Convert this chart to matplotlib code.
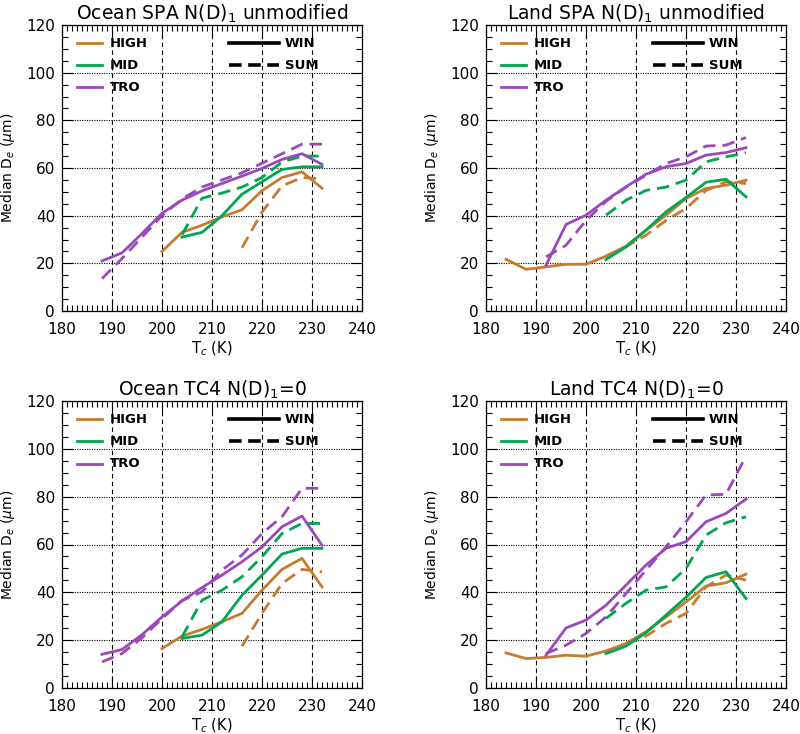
import matplotlib
matplotlib.use("Agg")
import matplotlib.pyplot as plt
from matplotlib.ticker import MultipleLocator

plt.rcParams['font.family'] = ['DejaVu Sans']

# ---------------- data ----------------
# Panel 1: Ocean SPA N(D)1 unmodified
p1_high_win_T = [200, 204, 208, 212, 216, 220, 224, 228, 232]
p1_high_win = [25, 33, 36, 39.5, 42.5, 50.5, 56, 58.4, 51.5]
p1_high_sum_T = [216, 220, 224, 228, 232]
p1_high_sum = [26.5, 41.5, 52.5, 56, 55.5]
p1_mid_win_T = [204, 208, 212, 216, 220, 224, 228, 232]
p1_mid_win = [31, 33, 40, 49, 54.2, 59.4, 60.5, 60.5]
p1_mid_sum_T = [204, 208, 212, 216, 220, 224, 228, 232]
p1_mid_sum = [32, 47.3, 49.5, 52, 56, 62.5, 65, 65]
p1_tro_win_T = [188, 192, 196, 200, 204, 208, 212, 216, 220, 224, 228, 232]
p1_tro_win = [21, 24.4, 32.5, 41, 46.5, 50.4, 53.5, 56.6, 59.8, 63.6, 66, 61.5]
p1_tro_sum_T = [188, 192, 196, 200, 204, 208, 212, 216, 220, 224, 228, 232]
p1_tro_sum = [13.6, 22, 31, 40, 47, 52, 55, 58, 62, 66, 70, 70]

# Panel 2: Land SPA N(D)1 unmodified
p2_high_win_T = [184, 188, 192, 196, 200, 204, 208, 212, 216, 220, 224, 228, 232]
p2_high_win = [21.7, 17.5, 18.5, 19.6, 19.6, 23, 27.2, 33.9, 40.2, 47.2, 51.4, 52.8, 54.9]
p2_high_sum_T = [204, 208, 212, 216, 220, 224, 228, 232]
p2_high_sum = [23, 27, 31.8, 38, 43, 50.6, 54.2, 53.5]
p2_mid_win_T = [204, 208, 212, 216, 220, 224, 228, 232]
p2_mid_win = [21.6, 26.9, 33.9, 41.6, 47.6, 54, 55.3, 47.9]
p2_mid_sum_T = [204, 208, 212, 216, 220, 224, 228, 232]
p2_mid_sum = [40.2, 46.5, 50.6, 52, 54.9, 62.6, 64.7, 66.4]
p2_tro_win_T = [192, 196, 200, 204, 208, 212, 216, 220, 224, 228, 232]
p2_tro_win = [19.2, 36.3, 40.2, 46.5, 52.1, 57.4, 60.5, 61.9, 65.4, 66.5, 68.5]
p2_tro_sum_T = [192, 196, 200, 204, 208, 212, 216, 220, 224, 228, 232]
p2_tro_sum = [22.7, 27.6, 38, 46, 52, 57, 61.9, 64.7, 69.2, 69.6, 72.8]

# Panel 3: Ocean TC4 N(D)1=0
p3_high_win_T = [200, 204, 208, 212, 216, 220, 224, 228, 232]
p3_high_win = [16.5, 21.7, 24.5, 27.7, 31.2, 40.9, 49.6, 54.2, 42.3]
p3_high_sum_T = [216, 220, 224, 228, 232]
p3_high_sum = [17.5, 31.2, 43.7, 49.6, 48.6]
p3_mid_win_T = [204, 208, 212, 216, 220, 224, 228, 232]
p3_mid_win = [20.7, 22.1, 27.7, 38.8, 47.2, 56, 58.4, 58.4]
p3_mid_sum_T = [204, 208, 212, 216, 220, 224, 228, 232]
p3_mid_sum = [21.4, 36.7, 40.9, 46.5, 54.9, 64.6, 68.8, 68.8]
p3_tro_win_T = [188, 192, 196, 200, 204, 208, 212, 216, 220, 224, 228, 232]
p3_tro_win = [14.1, 16.1, 22.3, 29.7, 36.4, 42, 47.2, 52.8, 59, 67.4, 71.9, 59.7]
p3_tro_sum_T = [188, 192, 196, 200, 204, 208, 212, 216, 220, 224, 228, 232]
p3_tro_sum = [10.9, 14.4, 21, 29, 36.6, 40.2, 49.3, 55.6, 64.6, 71.6, 83.5, 83.5]

# Panel 4: Land TC4 N(D)1=0
p4_high_win_T = [184, 188, 192, 196, 200, 204, 208, 212, 216, 220, 224, 228, 232]
p4_high_win = [14.7, 12.3, 12.8, 13.7, 13.3, 15.5, 18.6, 23.5, 29.7, 36, 42.6, 44, 47.6]
p4_high_sum_T = [208, 212, 216, 220, 224, 228, 232]
p4_high_sum = [18.6, 21.7, 27, 31.2, 42.3, 47.2, 45.1]
p4_mid_win_T = [204, 208, 212, 216, 220, 224, 228, 232]
p4_mid_win = [14.4, 17.5, 23.1, 30.5, 37.9, 46.2, 48.6, 37.4]
p4_mid_sum_T = [204, 208, 212, 216, 220, 224, 228, 232]
p4_mid_sum = [29.1, 35.4, 40.9, 42.3, 50, 63.9, 69.1, 71.6]
p4_tro_win_T = [192, 196, 200, 204, 208, 212, 216, 220, 224, 228, 232]
p4_tro_win = [13.7, 25.1, 28.4, 34.6, 43, 51.4, 58.4, 61.2, 69.5, 73, 79]
p4_tro_sum_T = [192, 196, 200, 204, 208, 212, 216, 220, 224, 228, 232]
p4_tro_sum = [14.4, 17.9, 22.8, 29.7, 39.5, 49.3, 59, 69.5, 80.7, 81, 97]

titles = ["Ocean SPA N(D)$_1$ unmodified", "Land SPA N(D)$_1$ unmodified",
          "Ocean TC4 N(D)$_1$=0", "Land TC4 N(D)$_1$=0"]
group_names = ["HIGH", "MID", "TRO"]
season_names = ["WIN", "SUM"]
colors = {"HIGH": "#C67C2E", "MID": "#00A651", "TRO": "#9A48BA"}

panels = [
    {"HIGH": [(p1_high_win_T, p1_high_win), (p1_high_sum_T, p1_high_sum)],
     "MID": [(p1_mid_win_T, p1_mid_win), (p1_mid_sum_T, p1_mid_sum)],
     "TRO": [(p1_tro_win_T, p1_tro_win), (p1_tro_sum_T, p1_tro_sum)]},
    {"HIGH": [(p2_high_win_T, p2_high_win), (p2_high_sum_T, p2_high_sum)],
     "MID": [(p2_mid_win_T, p2_mid_win), (p2_mid_sum_T, p2_mid_sum)],
     "TRO": [(p2_tro_win_T, p2_tro_win), (p2_tro_sum_T, p2_tro_sum)]},
    {"HIGH": [(p3_high_win_T, p3_high_win), (p3_high_sum_T, p3_high_sum)],
     "MID": [(p3_mid_win_T, p3_mid_win), (p3_mid_sum_T, p3_mid_sum)],
     "TRO": [(p3_tro_win_T, p3_tro_win), (p3_tro_sum_T, p3_tro_sum)]},
    {"HIGH": [(p4_high_win_T, p4_high_win), (p4_high_sum_T, p4_high_sum)],
     "MID": [(p4_mid_win_T, p4_mid_win), (p4_mid_sum_T, p4_mid_sum)],
     "TRO": [(p4_tro_win_T, p4_tro_win), (p4_tro_sum_T, p4_tro_sum)]},
]

# ---------------- figure ----------------
W, H = 800, 734
fig = plt.figure(figsize=(W / 100, H / 100), dpi=100)

boxes = [(62, 25, 362, 311), (486, 25, 786, 311),
         (62, 401, 362, 688), (486, 401, 786, 688)]

lw = 2.0
dash = (4.5, 2.5)

for i, (x0, y0, x1, y1) in enumerate(boxes):
    ax = fig.add_axes([x0 / W, 1 - y1 / H, (x1 - x0) / W, (y1 - y0) / H])
    ax.set_xlim(180, 240)
    ax.set_ylim(0, 120)
    ax.xaxis.set_major_locator(MultipleLocator(10))
    ax.xaxis.set_minor_locator(MultipleLocator(1))
    ax.yaxis.set_major_locator(MultipleLocator(20))
    ax.yaxis.set_minor_locator(MultipleLocator(5))
    ax.tick_params(which='both', direction='in', top=True, right=True,
                   labelsize=11, width=0.8, color='black')
    ax.tick_params(which='major', length=8)
    ax.tick_params(axis='x', which='major', pad=8)
    ax.tick_params(axis='y', which='major', pad=5)
    ax.tick_params(which='minor', length=4)
    for s in ax.spines.values():
        s.set_linewidth(0.9)

    # grid lines (interior only)
    for gx in [190, 200, 210, 220, 230]:
        ax.axvline(gx, color='black', lw=0.8, ls=(0, (4, 3)), zorder=1)
    for gy in [20, 40, 60, 80, 100]:
        ax.axhline(gy, color='black', lw=0.8, ls=(0, (1, 1.2)), zorder=1)

    data = panels[i]
    for g in group_names:
        (tw, vw), (ts, vs) = data[g]
        ax.plot(tw, vw, color=colors[g], lw=lw, solid_joinstyle='round', zorder=3)
        ax.plot(ts, vs, color=colors[g], lw=lw, ls=(0, dash), zorder=3)

    ax.set_title(titles[i], fontsize=13.5, pad=4)
    ax.set_xlabel("T$_c$ (K)", fontsize=10.5, labelpad=2)
    ax.set_ylabel("Median D$_e$ ($\\mu$m)", fontsize=10)
    ax.yaxis.set_label_coords(-0.15, 0.5)

    # legend drawn in axes coordinates
    rows = [0.936, 0.860, 0.782]
    for g, yy in zip(group_names, rows):
        ax.plot([0.049, 0.133], [yy, yy], transform=ax.transAxes,
                color=colors[g], lw=lw, clip_on=False, zorder=4)
        ax.text(0.16, yy, g, transform=ax.transAxes, va='center', ha='left',
                fontsize=9.5, fontweight='bold')
    for s_name, yy, ls in zip(season_names, rows[:2], ['-', (0, (3.5, 1.8))]):
        ax.plot([0.555, 0.722], [yy, yy], transform=ax.transAxes,
                color='black', lw=lw + 0.6, ls=ls, zorder=4)
        ax.text(0.743, yy, s_name, transform=ax.transAxes, va='center',
                ha='left', fontsize=9.5, fontweight='bold')

fig.savefig("out.png", dpi=100)
